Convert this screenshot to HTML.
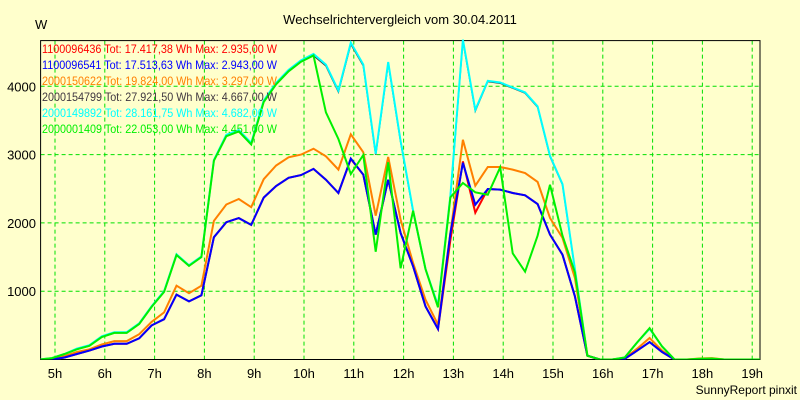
<!DOCTYPE html>
<html><head><meta charset="utf-8"><style>
html,body{margin:0;padding:0;background:#ffffcc;}
svg{display:block;font-family:"Liberation Sans",sans-serif;}
</style></head><body>
<svg id="chart" width="800" height="400" viewBox="0 0 800 400" xmlns="http://www.w3.org/2000/svg">
<rect x="0" y="0" width="800" height="400" fill="#ffffcc"/>
<text x="400" y="24" text-anchor="middle" font-size="13" fill="#000">Wechselrichtervergleich vom 30.04.2011</text>
<text x="35" y="29" font-size="13" fill="#000">W</text>
<text x="797" y="394" text-anchor="end" font-size="12" fill="#000">SunnyReport pinxit</text>
<g id="grid"></g><g id="axes"></g><g id="series"></g><g id="legend"></g>
</svg>
<script>
const hourTicks = [5,6,7,8,9,10,11,12,13,14,15,16,17,18,19];
const valueTicks = [1000,2000,3000,4000];
const startHour = 4.69;
const stepHour = 0.25;
const seriesNames = ["2000154799","2000149892","2000150622","1100096436","1100096541","2000001409"];
const seriesColors = ["#403840","#00ffff","#ff8000","#ff0000","#0000ff","#00f000"];
const legendNames = ["1100096436","1100096541","2000150622","2000154799","2000149892","2000001409"];
const legendTotals = ["17.417,38","17.513,63","19.824,00","27.921,50","28.161,75","22.053,00"];
const legendMax = ["2.935,00","2.943,00","3.297,00","4.667,00","4.682,00","4.451,00"];
const legendColors = ["#ff0000","#0000ff","#ff8000","#403840","#00ffff","#00f000"];
const valsDark = [0,20,80,150,200,330,390,390,520,770,990,1530,1370,1500,2910,3270,3340,3150,3770,4030,4220,4360,
 4450,4300,3920,4620,4300,3000,4340,3190,2170,1320,790,2390,4667,3640,4070,4046,3973,3900,3695,2972,2560,1320,56,
 0,0,30,250,450,190,0,0,0,10,0,0,0,0];
const valsCyan = [0,20,80,160,210,340,400,400,530,780,1000,1540,1380,1510,2920,3290,3360,3170,3790,4050,4240,4380,
 4473,4317,3937,4640,4317,3010,4356,3200,2179,1325,790,2400,4682,3655,4080,4056,3983,3910,3705,2982,2567,1325,56,
 0,0,30,250,450,190,0,0,0,10,0,0,0,0];
const valsOrange = [0,10,50,110,150,220,270,270,370,550,690,1080,970,1080,2030,2270,2350,2230,2640,2840,2960,3000,
 3087,2975,2780,3297,3033,2106,2965,2047,1413,876,510,1850,3218,2545,2818,2818,2780,2731,2600,2072,1780,1194,56,
 0,0,20,160,315,130,0,0,15,20,0,0,0,0];
const valsRed = [0,0,30,80,130,190,230,230,310,500,590,950,850,940,1790,2010,2070,1970,2370,2540,2660,2700,
 2790,2633,2438,2935,2706,1828,2633,1852,1364,779,447,1750,2900,2150,2497,2487,2438,2404,2276,1828,1535,925,56,
 0,0,10,130,255,110,0,0,0,0,0,0,0,0];
const valsBlue = [0,0,30,80,130,190,230,230,310,500,590,950,850,940,1790,2010,2070,1970,2370,2540,2660,2700,
 2790,2633,2438,2943,2706,1828,2633,1852,1364,779,447,1850,2880,2267,2497,2487,2438,2404,2276,1828,1535,925,56,
 0,0,10,130,255,110,0,0,0,0,0,0,0,0];
const valsGreen = [0,20,80,150,200,330,390,390,520,770,990,1530,1370,1500,2910,3270,3340,3150,3770,4030,4220,4360,
 4451,3619,3228,2716,2994,1578,2887,1335,2179,1325,764,2375,2584,2448,2413,2814,1555,1286,1813,2559,1813,1277,56,
 0,0,30,250,460,190,0,0,10,15,0,0,0,0];
const allVals = [valsDark,valsCyan,valsOrange,valsRed,valsBlue,valsGreen];

const NS="http://www.w3.org/2000/svg";
const L=40.6,R=760,T=40.6,B=359.5;
function xs(h){return 553+(h-15)*49.8;}
function ys(v){return B-v*0.0683;}
function mk(tag,attrs,parent){const e=document.createElementNS(NS,tag);for(const k in attrs)e.setAttribute(k,attrs[k]);parent.appendChild(e);return e;}
const grid=document.getElementById('grid'),axes=document.getElementById('axes'),ser=document.getElementById('series'),leg=document.getElementById('legend');
const defs=mk('defs',{},document.getElementById('chart'));
const cp=mk('clipPath',{id:'plotclip'},defs);mk('rect',{x:L,y:T-3,width:R-L,height:B-T+3},cp);
hourTicks.forEach(h=>{
 const x=xs(h);
 const gl=mk('line',{x1:x,y1:T,x2:x,y2:B,stroke:'#00e000','stroke-width':1,'stroke-dasharray':'4,3'},grid);
 
 
 const t=mk('text',{x:x,y:378,'text-anchor':'middle','font-size':13,fill:'#000'},axes);
 t.textContent=h+'h';
 
 
});
valueTicks.forEach(v=>{
 const y=ys(v);
 const gl=mk('line',{x1:L,y1:y,x2:R,y2:y,stroke:'#00e000','stroke-width':1,'stroke-dasharray':'4,3'},grid);
 
 
 const t=mk('text',{x:36,y:y+5,'text-anchor':'end','font-size':13,fill:'#000'},axes);
 t.textContent=v;
 
 
});
const frame=mk('rect',{x:L,y:T,width:R-L,height:B-T,fill:'none',stroke:'#000','stroke-width':1},axes);


allVals.forEach((vals,i)=>{
 const pts=vals.map((v,k)=>xs(startHour+stepHour*k).toFixed(1)+','+ys(v).toFixed(1)).join(' ');
 const p=mk('polyline',{points:pts,fill:'none',stroke:seriesColors[i],'stroke-width':i===0?1.5:2,'stroke-linejoin':'miter','clip-path':'url(#plotclip)'},ser);
 
 
});
legendNames.forEach((n,i)=>{
 const t=mk('text',{x:42,y:53+i*16,'font-size':12,fill:legendColors[i],textLength:235,lengthAdjust:'spacingAndGlyphs'},leg);
 t.textContent=n+' Tot: '+legendTotals[i]+' Wh Max: '+legendMax[i]+' W';
 
 
});
</script>
</body></html>
